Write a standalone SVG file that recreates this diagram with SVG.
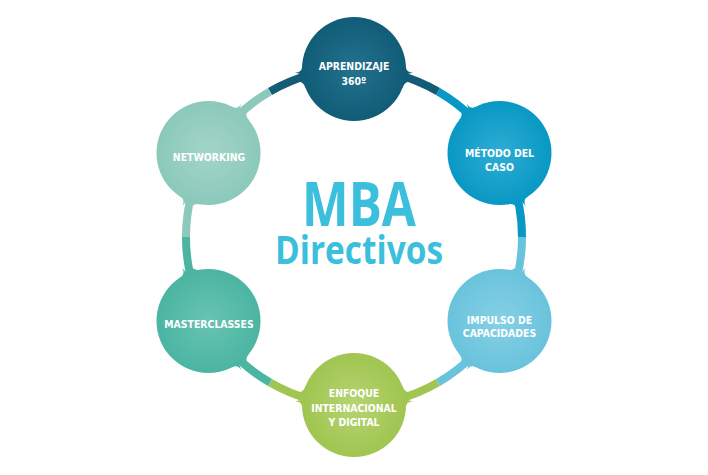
<svg xmlns="http://www.w3.org/2000/svg" width="708" height="475" viewBox="0 0 708 475">
<defs>
<radialGradient id="gA" cx="0.5" cy="0.5" r="0.5"><stop offset="0" stop-color="#23728e"/><stop offset="1" stop-color="#115c77"/></radialGradient>
<radialGradient id="gM" cx="0.5" cy="0.5" r="0.5"><stop offset="0" stop-color="#2eadd4"/><stop offset="1" stop-color="#0898c4"/></radialGradient>
<radialGradient id="gI" cx="0.5" cy="0.5" r="0.5"><stop offset="0" stop-color="#86d0e5"/><stop offset="1" stop-color="#69c3dc"/></radialGradient>
<radialGradient id="gE" cx="0.5" cy="0.5" r="0.5"><stop offset="0" stop-color="#b6d473"/><stop offset="1" stop-color="#a0c550"/></radialGradient>
<radialGradient id="gMa" cx="0.5" cy="0.5" r="0.5"><stop offset="0" stop-color="#68c3b2"/><stop offset="1" stop-color="#4bb5a2"/></radialGradient>
<radialGradient id="gN" cx="0.5" cy="0.5" r="0.5"><stop offset="0" stop-color="#a3d5c9"/><stop offset="1" stop-color="#8bc9ba"/></radialGradient>
<g id="seg">
<path d="M 499.49 153 A 168 168 0 0 1 499.49 321" fill="none" stroke-width="8"/>
<path d="M 510 179 Q 510 186.4 503 188.6 L 514 197 Z" stroke="none"/>
<path d="M 518.3 178 Q 518.3 185.1 525 185.2 L 514 197 Z" stroke="none"/>
<path d="M 510 295 Q 510 287.6 503 285.4 L 514 277 Z" stroke="none"/>
<path d="M 518.3 296 Q 518.3 288.9 525 288.8 L 514 277 Z" stroke="none"/>
</g>
</defs>
<style>
.lbl{font-family:"DejaVu Sans Condensed","DejaVu Sans","Liberation Sans",sans-serif;font-weight:bold;font-size:10.4px;fill:#ffffff;text-anchor:middle}
.title{font-family:"Open Sans","Liberation Sans",sans-serif;font-weight:700;fill:#3bbfdc;text-anchor:middle}
</style>
<rect width="708" height="475" fill="#ffffff"/>
<g id="connectors">
<use href="#seg" transform="rotate(-90 354 237)" fill="#135b76" stroke="#135b76"/>
<use href="#seg" transform="rotate(-30 354 237)" fill="#0898c4" stroke="#0898c4"/>
<use href="#seg" transform="rotate(30 354 237)" fill="#69c3dc" stroke="#69c3dc"/>
<use href="#seg" transform="rotate(90 354 237)" fill="#a0c550" stroke="#a0c550"/>
<use href="#seg" transform="rotate(150 354 237)" fill="#4bb5a2" stroke="#4bb5a2"/>
<use href="#seg" transform="rotate(210 354 237)" fill="#8bc9ba" stroke="#8bc9ba"/>
</g>
<g id="node-aprendizaje">
<circle cx="354" cy="69" r="52" fill="url(#gA)"/>
<text class="lbl" x="354" y="70">APRENDIZAJE</text>
<text class="lbl" x="354" y="85">360º</text>
</g>
<g id="node-metodo">
<circle cx="499.5" cy="153" r="52" fill="url(#gM)"/>
<text class="lbl" x="499.5" y="157">MÉTODO DEL</text>
<text class="lbl" x="499.5" y="171">CASO</text>
</g>
<g id="node-impulso">
<circle cx="499.5" cy="321" r="52" fill="url(#gI)"/>
<text class="lbl" x="499.5" y="324">IMPULSO DE</text>
<text class="lbl" x="499.5" y="337">CAPACIDADES</text>
</g>
<g id="node-enfoque">
<circle cx="354" cy="405" r="52" fill="url(#gE)"/>
<text class="lbl" x="354" y="397">ENFOQUE</text>
<text class="lbl" x="354" y="412">INTERNACIONAL</text>
<text class="lbl" x="354" y="426">Y DIGITAL</text>
</g>
<g id="node-masterclasses">
<circle cx="208.5" cy="321" r="52" fill="url(#gMa)"/>
<text class="lbl" x="209" y="328">MASTERCLASSES</text>
</g>
<g id="node-networking">
<circle cx="208.5" cy="153" r="52" fill="url(#gN)"/>
<text class="lbl" x="209" y="161">NETWORKING</text>
</g>
<g id="center-title">
<text class="title" x="359" y="226" font-size="60" textLength="114" lengthAdjust="spacingAndGlyphs">MBA</text>
<text class="title" x="359" y="264" font-size="39" textLength="168" lengthAdjust="spacingAndGlyphs">Directivos</text>
</g>
</svg>
